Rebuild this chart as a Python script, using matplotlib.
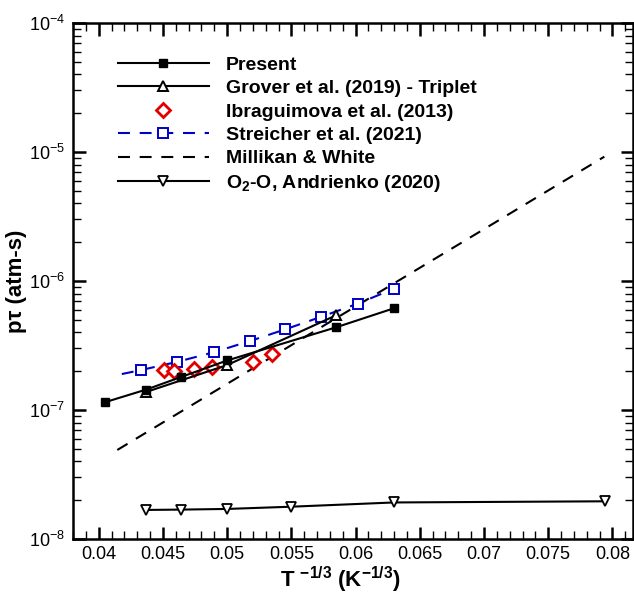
import matplotlib
matplotlib.use("Agg")
import matplotlib.pyplot as plt
from matplotlib.ticker import MultipleLocator, FuncFormatter, LogLocator, NullFormatter

plt.rcParams['font.family'] = ['Liberation Sans', 'DejaVu Sans']
plt.rcParams['mathtext.fontset'] = 'custom'
plt.rcParams['mathtext.rm'] = 'Liberation Sans'
plt.rcParams['mathtext.it'] = 'Liberation Sans:italic'
plt.rcParams['mathtext.bf'] = 'Liberation Sans:bold'
plt.rcParams['lines.scale_dashes'] = False

# ---- data: x is T^(-1/3) in K^(-1/3), y is p*tau in atm-s ----
present_x = [0.0405, 0.0437, 0.0464, 0.0500, 0.0585, 0.0630]
present_y = [1.15e-7, 1.44e-7, 1.80e-7, 2.42e-7, 4.38e-7, 6.15e-7]

grover_x = [0.0437, 0.0500, 0.0585]
grover_y = [1.38e-7, 2.23e-7, 5.43e-7]

ibrag_x = [0.0451, 0.0459, 0.0474, 0.0488, 0.0520, 0.0535]
ibrag_y = [2.03e-7, 2.02e-7, 2.09e-7, 2.15e-7, 2.36e-7, 2.74e-7]

streicher_x = [0.0418, 0.0433, 0.0461, 0.0490, 0.0518, 0.0545, 0.0573, 0.0602, 0.0630]
streicher_y = [1.90e-7, 2.04e-7, 2.36e-7, 2.81e-7, 3.43e-7, 4.21e-7, 5.27e-7, 6.69e-7, 8.73e-7]

mw_x = [0.04145, 0.07937]
mw_y = [4.9e-8, 9.2e-6]

andrienko_x = [0.0437, 0.0464, 0.0500, 0.0550, 0.0630, 0.0794]
andrienko_y = [1.68e-8, 1.69e-8, 1.71e-8, 1.78e-8, 1.92e-8, 1.96e-8]

W, H = 634, 593
fig = plt.figure(figsize=(W / 100, H / 100), dpi=100)
ax = fig.add_axes([73 / W, (H - 539) / H, (633 - 73) / W, (539 - 23) / H])

lw = 1.5
dash = (0, (8.6, 7.0))

h_mw, = ax.plot(mw_x, mw_y, color='black', lw=lw, linestyle=dash,
                label='Millikan & White')
h_and, = ax.plot(andrienko_x, andrienko_y, color='black', lw=lw, marker='v',
                 ms=7, mfc='white', mec='black', mew=1.3,
                 label=r'O$_\mathbf{2}$-O, Andrienko (2020)')
h_str, = ax.plot(streicher_x, streicher_y, color='#0000c8', lw=lw, linestyle=dash,
                 marker='s', ms=6.5, mfc='white', mec='#0000c8', mew=1.4,
                 markevery=list(range(1, len(streicher_x))),
                 label='Streicher et al. (2021)')
h_ibr, = ax.plot(ibrag_x, ibrag_y, linestyle='none', marker='D', ms=7.5,
                 mfc='white', mec='#e00000', mew=2.0,
                 label='Ibraguimova et al. (2013)')
h_gro, = ax.plot(grover_x, grover_y, color='black', lw=lw, marker='^', ms=7.5,
                 mfc='white', mec='black', mew=1.4,
                 label='Grover et al. (2019) - Triplet')
h_pre, = ax.plot(present_x, present_y, color='black', lw=lw, marker='s', ms=6,
                 mfc='black', mec='black', label='Present')

ax.set_yscale('log')
ax.set_xlim(0.038, 0.0816)
ax.set_ylim(1e-8, 1e-4)

ax.xaxis.set_major_locator(MultipleLocator(0.005))
ax.xaxis.set_minor_locator(MultipleLocator(0.001))
ax.xaxis.set_major_formatter(FuncFormatter(lambda v, p: ('%g' % round(v, 4))))
ax.yaxis.set_major_locator(LogLocator(base=10, numticks=10))
ax.yaxis.set_minor_locator(LogLocator(base=10, subs=range(2, 10), numticks=20))
ax.yaxis.set_minor_formatter(NullFormatter())

for s in ax.spines.values():
    s.set_linewidth(1.8)
ax.tick_params(which='both', direction='in', top=True, right=True,
               labelsize=13)
ax.tick_params(which='major', length=9, width=1.8)
ax.tick_params(which='minor', length=5.5, width=1.0)
ax.tick_params(axis='x', pad=5)
ax.tick_params(axis='y', pad=6)

ax.set_xlabel(r'T $^{\mathbf{-1/3}}$ (K$^{\mathbf{-1/3}}$)', fontsize=16,
              fontweight='bold', labelpad=1)
ax.xaxis.label.set_x(0.477)
ax.set_ylabel('p\u03c4 (atm-s)', fontsize=16, fontweight='bold')
ax.yaxis.set_label_coords(-0.082, 0.5)

ax.legend(handles=[h_pre, h_gro, h_ibr, h_str, h_mw, h_and],
          loc='upper left', bbox_to_anchor=(0.08, 0.936), frameon=False,
          borderpad=0, borderaxespad=0, numpoints=1, handlelength=4.7,
          handletextpad=0.85, labelspacing=0.3,
          prop={'weight': 'bold', 'size': 14})

fig.savefig('out.png', dpi=100)
